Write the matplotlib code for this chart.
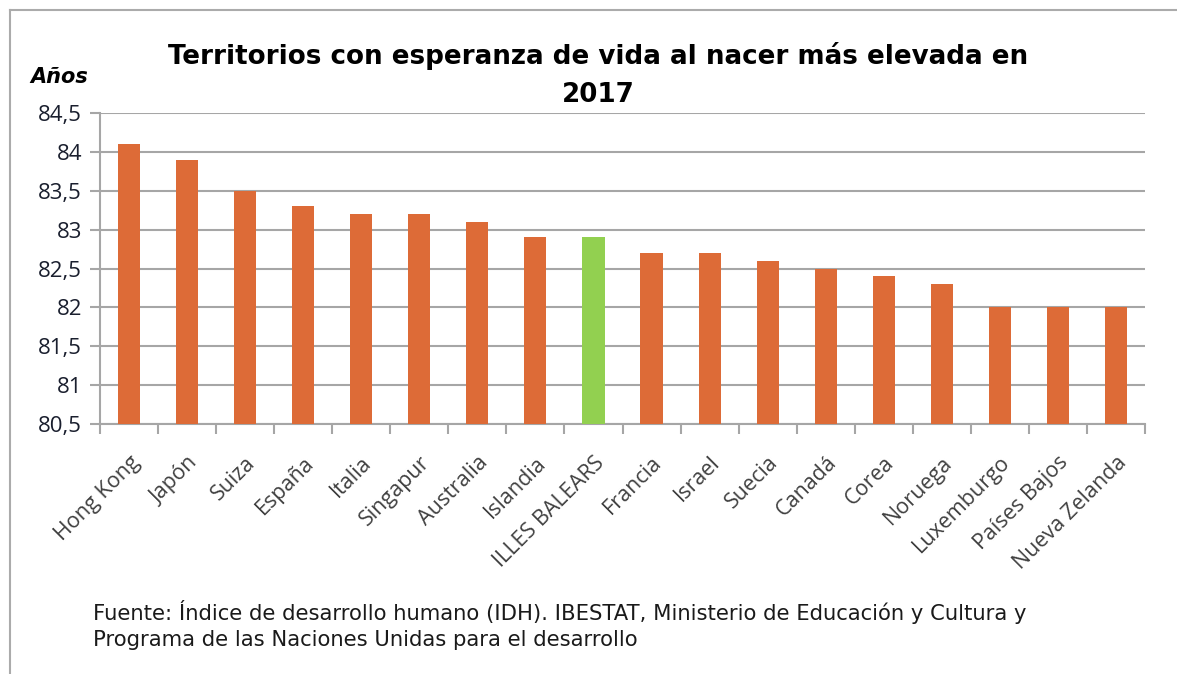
import matplotlib
matplotlib.use("Agg")
import matplotlib.pyplot as plt
from matplotlib.lines import Line2D
from matplotlib.transforms import ScaledTranslation
import numpy as np

categories = ["Hong Kong", "Japón", "Suiza", "España", "Italia", "Singapur",
              "Australia", "Islandia", "ILLES BALEARS", "Francia", "Israel",
              "Suecia", "Canadá", "Corea", "Noruega", "Luxemburgo",
              "Países Bajos", "Nueva Zelanda"]
values = [84.1, 83.9, 83.5, 83.3, 83.2, 83.2, 83.1, 82.9, 82.9, 82.7, 82.7,
          82.6, 82.5, 82.4, 82.3, 82.0, 82.0, 82.0]
highlight = "ILLES BALEARS"
y_ticks = [80.5, 81, 81.5, 82, 82.5, 83, 83.5, 84, 84.5]
y_tick_labels = ["80,5", "81", "81,5", "82", "82,5", "83", "83,5", "84", "84,5"]

title = "Territorios con esperanza de vida al nacer más elevada en\n2017"
source = ("Fuente: Índice de desarrollo humano (IDH). IBESTAT, Ministerio de Educación y Cultura y\n"
          "Programa de las Naciones Unidas para el desarrollo")

ORANGE = "#DD6B37"
GREEN = "#92D050"
GRID = "#A6A6A6"

W, H = 1177, 674
fig = plt.figure(figsize=(W / 100, H / 100), dpi=100)

left, right, top, bottom = 100, 1145, 113, 424
ax = fig.add_axes([left / W, 1 - bottom / H, (right - left) / W, (bottom - top) / H])

x = np.arange(len(categories))
colors = [GREEN if c == highlight else ORANGE for c in categories]
base = 80.5
ax.bar(x, [v - base for v in values], bottom=base, width=0.38, color=colors, zorder=3)

ax.set_xlim(-0.5, len(categories) - 0.5)
ax.set_ylim(80.5, 84.5)
ax.set_yticks(y_ticks)
ax.set_yticklabels(y_tick_labels, fontsize=16, family="Open Sans", color="#1a1f2e")
ax.yaxis.grid(True, color=GRID, linewidth=1.5, zorder=0)
ax.set_axisbelow(True)

ax.set_xticks(x)
ax.set_xticklabels(categories, rotation=45, ha="right", rotation_mode="anchor",
                   fontsize=15.5, family="Open Sans", color="#404040")
ax.tick_params(axis="x", length=0, pad=16)
offset = ScaledTranslation(0, -6 / 100, fig.dpi_scale_trans)
for lab in ax.get_xticklabels():
    lab.set_transform(lab.get_transform() + offset)
ax.set_xticks(np.arange(-0.5, len(categories)), minor=True)
ax.tick_params(axis="x", which="minor", length=7, color=GRID, width=1.5)
ax.tick_params(axis="y", length=7, color=GRID, width=1.5, pad=6)

for s in ["top", "right"]:
    ax.spines[s].set_visible(False)
for s in ["left", "bottom"]:
    ax.spines[s].set_color(GRID)
    ax.spines[s].set_linewidth(1.5)

fig.text(598 / W, 1 - 75 / H, title, ha="center", va="center", fontsize=18.8,
         fontweight="bold", family="DejaVu Sans", linespacing=1.65)
fig.text(30 / W, 1 - 77 / H, "Años", ha="left", va="center", fontsize=15,
         fontweight="bold", style="italic", family="DejaVu Sans")
fig.text(93 / W, 1 - 625 / H, source, ha="left", va="center", fontsize=15.2,
         family="DejaVu Sans", linespacing=1.4, color="#1a1a1a")

# frame
fig.add_artist(Line2D([10 / W, 1], [1 - 10 / H, 1 - 10 / H], color="#ABABAB",
                      linewidth=1.5, transform=fig.transFigure))
fig.add_artist(Line2D([10 / W, 10 / W], [0, 1 - 10 / H], color="#ABABAB",
                      linewidth=1.5, transform=fig.transFigure))

fig.savefig("out.png", dpi=100)
